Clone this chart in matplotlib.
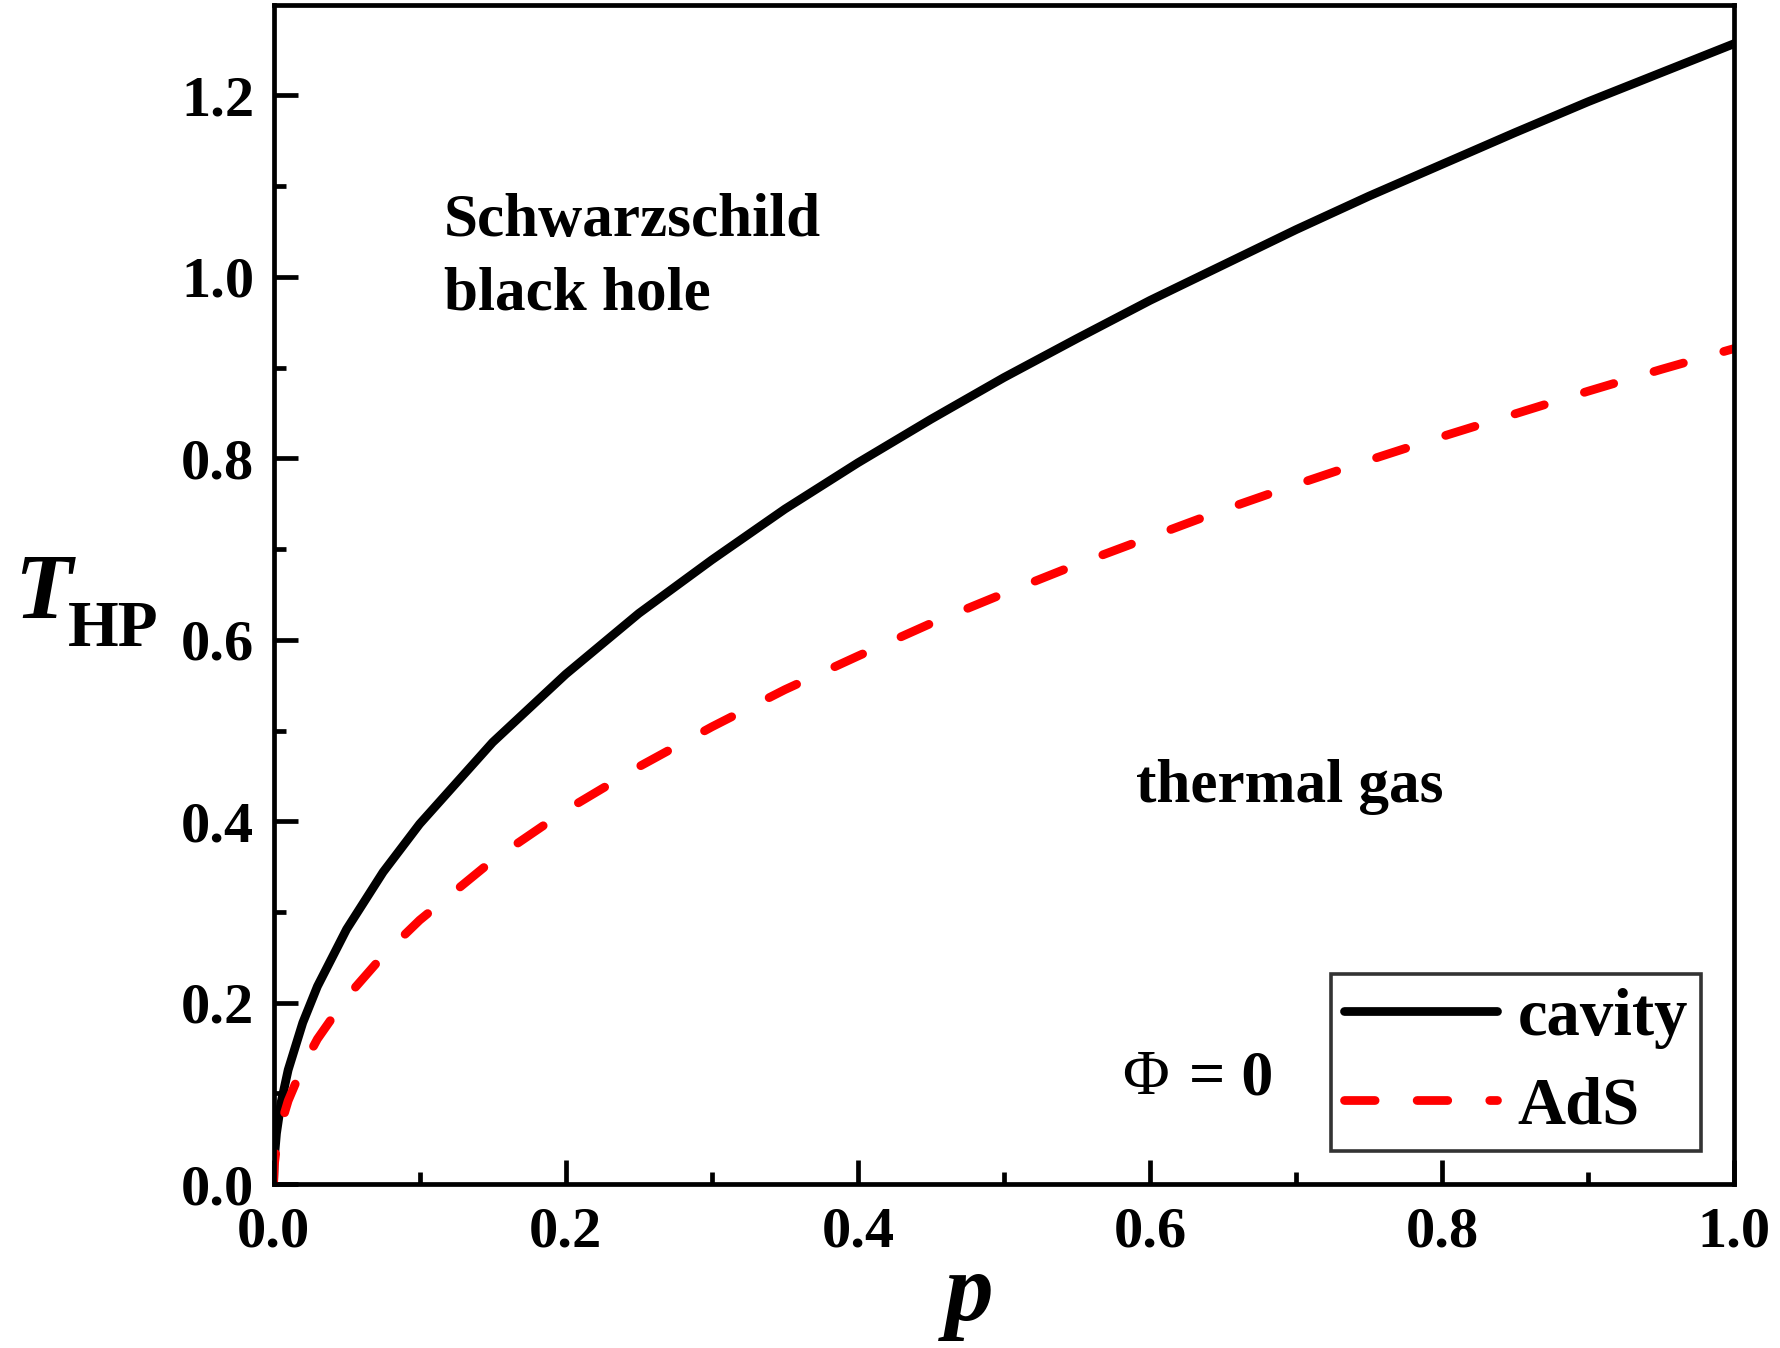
import matplotlib
matplotlib.use('Agg')
import matplotlib.pyplot as plt

# values
p_vals = [0, 0.0005, 0.002, 0.005, 0.01, 0.02, 0.03, 0.05, 0.075, 0.1, 0.15, 0.2, 0.25,
          0.3, 0.35, 0.4, 0.45, 0.5, 0.55, 0.6, 0.65, 0.7, 0.75, 0.8, 0.85, 0.9, 0.95, 1.0]
t_cavity = [0, 0.028, 0.056, 0.089, 0.126, 0.178, 0.218, 0.281, 0.344, 0.397, 0.487, 0.562, 0.629,
            0.688, 0.744, 0.795, 0.843, 0.889, 0.932, 0.974, 1.013, 1.052, 1.089, 1.124, 1.159,
            1.193, 1.225, 1.257]
t_ads = [0, 0.021, 0.041, 0.065, 0.092, 0.130, 0.160, 0.206, 0.252, 0.291, 0.357, 0.412, 0.460,
         0.504, 0.545, 0.582, 0.618, 0.651, 0.683, 0.713, 0.743, 0.771, 0.798, 0.824, 0.849,
         0.874, 0.898, 0.921]
x_ticks = [0.0, 0.2, 0.4, 0.6, 0.8, 1.0]
y_ticks = [0.0, 0.2, 0.4, 0.6, 0.8, 1.0, 1.2]

plt.rcParams['font.family'] = ['Liberation Serif', 'DejaVu Serif']
plt.rcParams['font.weight'] = 'bold'

W, H = 1781, 1348
fig = plt.figure(figsize=(W / 100, H / 100), dpi=100)
left, right, bottom, top = 0.1536, 0.9738, 0.1215, 0.9966
ax = fig.add_axes([left, bottom, right - left, top - bottom])

ax.plot(p_vals, t_cavity, color='black', lw=6.3, solid_capstyle='round', label='cavity')
ax.plot(p_vals, t_ads, color='red', lw=6.3, dashes=(3.5, 4.8), dash_capstyle='round', label='AdS')

ax.set_xlim(0, 1.0)
ax.set_ylim(0, 1.3)
ax.set_xticks(x_ticks)
ax.set_yticks(y_ticks)
ax.set_xticks([0.1, 0.3, 0.5, 0.7, 0.9], minor=True)
ax.set_yticks([0.1, 0.3, 0.5, 0.7, 0.9, 1.1], minor=True)
ax.set_xticklabels(['%.1f' % v for v in x_ticks])
ax.set_yticklabels(['%.1f' % v for v in y_ticks])
ax.tick_params(which='both', direction='in', width=3.4, top=False, right=False)
ax.tick_params(which='major', length=17)
ax.tick_params(which='minor', length=8.5)
ax.tick_params(axis='x', which='major', labelsize=42, pad=16)
ax.tick_params(axis='y', which='major', labelsize=42, pad=14)
for s in ax.spines.values():
    s.set_linewidth(3.4)

ax.text(0.1166, 1.045, 'Schwarzschild', fontsize=44, va='baseline')
ax.text(0.1166, 0.964, 'black hole', fontsize=44, va='baseline')
ax.text(0.5905, 0.421, 'thermal gas', fontsize=44, va='baseline')
ax.text(0.581, 0.099, '\u03a6', fontsize=46, fontweight='normal', va='baseline')
ax.text(0.627, 0.099, '= 0', fontsize=46, va='baseline')

leg = ax.legend(loc='lower right', fontsize=48, frameon=True, fancybox=False,
                edgecolor='black', borderaxespad=0.5, handlelength=2.3,
                handletextpad=0.3, labelspacing=0.42, borderpad=0.2)
leg.get_frame().set_linewidth(2.6)

# axis labels placed by hand
fig.text(12 / 1563, 1 - 543 / 1185, 'T', fontsize=68, style='italic', va='baseline')
fig.text(60 / 1563, 1 - 568 / 1185, 'HP', fontsize=47, va='baseline')
fig.text(left + 0.476 * (right - left), 1 - 1160 / 1185, 'p', fontsize=70,
         style='italic', ha='center', va='baseline')

fig.savefig('out.png', dpi=100)
